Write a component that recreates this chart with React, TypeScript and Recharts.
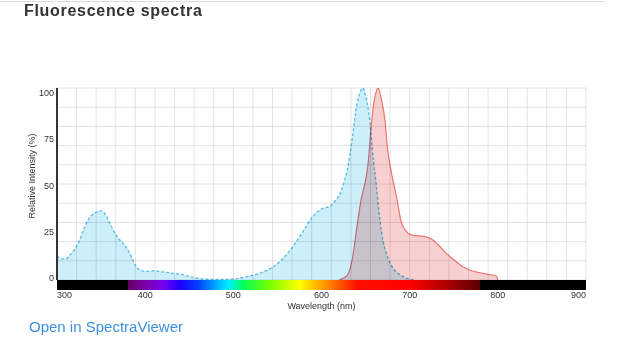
import { Area, CartesianGrid, ComposedChart, ReferenceArea, ReferenceLine, XAxis, YAxis } from "recharts";

// excitation (blue, dashed)
const exNm = [300, 305, 310, 315, 320, 325, 330, 335, 340, 345, 350, 355, 360, 365, 370, 375, 380, 385, 390, 395, 400, 410, 420, 430, 440, 450, 460, 470, 480, 490, 500, 510, 520, 530, 540, 550, 560, 570, 580, 590, 600, 610, 615, 620, 625, 630, 635, 640, 645, 647, 650, 655, 658, 662, 666, 670, 675, 683, 690, 696, 705];
const exVal = [12.5, 11, 11, 13, 16, 20, 26, 31, 34, 35.5, 36, 34, 29.5, 25, 21.5, 19, 16, 11.5, 6.8, 5, 4.5, 4.8, 4.2, 3.6, 3, 1.8, 0.8, 0.4, 0.3, 0.3, 0.5, 1.2, 2.2, 3.5, 5.5, 8.5, 13, 19, 26, 33, 37, 38.5, 41, 44, 50, 59, 74, 91, 99, 100, 96, 82, 66, 50, 32, 20, 12, 5, 2.5, 1, 0];

// emission (red)
const emNm = [620, 625, 630, 635, 640, 645, 650, 653, 656, 659, 662, 664, 666, 668, 672, 675, 678, 681, 686, 690, 695, 702, 710, 719, 726, 732, 738, 745, 753, 760, 768, 775, 783, 790, 798, 800];
const emVal = [0, 1, 3, 11, 27, 42, 52, 61, 78, 91, 98, 100, 98, 94, 83, 68, 59, 52, 41, 31, 26, 23.5, 23, 22.5, 21, 18.5, 15.6, 12.5, 9.5, 7, 5.2, 4.2, 3.5, 2.8, 2.2, 0];

const nmTicks = [300, 400, 500, 600, 700, 800, 900];
const pctTicks = [0, 25, 50, 75, 100];
const gridPct = [0, 10, 20, 30, 40, 50, 60, 70, 80, 90, 100];
// grid is 27 equal steps across the wavelength range
const gridNm = Array.from({ length: 28 }, (_, k) => 300 + (k * 600) / 27);

const allNm = Array.from(new Set([...exNm, ...emNm])).sort((a, b) => a - b);
const rows = allNm.map((nm) => {
  const i = exNm.indexOf(nm);
  const j = emNm.indexOf(nm);
  return { nm, excitation: i >= 0 ? exVal[i] : null, emission: j >= 0 ? emVal[j] : null };
});

const spectrumStops: [number, string][] = [
  [300, "#000000"], [380, "#000000"], [380, "#5e005e"], [400, "#7c00a8"], [420, "#7a00f0"],
  [440, "#1a00ff"], [460, "#0040ff"], [480, "#00a8ff"], [495, "#00f0ff"], [510, "#00ff60"],
  [540, "#70ff00"], [575, "#ffff00"], [605, "#ff9000"], [640, "#ff1000"], [700, "#ff0000"],
  [740, "#b00000"], [780, "#5a0000"], [780, "#000000"], [900, "#000000"],
];

const font = "'Liberation Sans', Arial, sans-serif";

const WaveTick = (props: any) => {
  const { x, y, payload } = props;
  const v = payload.value;
  const anchor = v === 300 ? "start" : v === 900 ? "end" : "middle";
  return (
    <text x={x} y={y + 17.5} textAnchor={anchor} fontSize={9} fill="#333" fontFamily={font}>
      {v}
    </text>
  );
};

export default function App() {
  return (
    <div style={{ position: "absolute", left: 0, top: 0, width: 619, height: 358, background: "#fff", fontFamily: font }}>
      <style>{".blend-area, .recharts-reference-line, .recharts-reference-line line { mix-blend-mode: multiply; }"}</style>
      <div style={{ position: "absolute", left: 0, top: 1, width: 605, height: 1, background: "#dcdcdc" }} />
      <div style={{ position: "absolute", left: 24, top: 2, fontSize: 16, lineHeight: "18px", fontWeight: "bold", letterSpacing: 0.7, color: "#333" }}>
        Fluorescence spectra
      </div>
      <div style={{ position: "absolute", left: 0, top: 0 }}>
        <ComposedChart width={619} height={320} data={rows} margin={{ top: 88, right: 33, bottom: 39, left: 56 }}>
          <defs>
            <linearGradient id="spectrumBar" x1="0" y1="0" x2="1" y2="0">
              {spectrumStops.map(([nm, c], k) => (
                <stop key={k} offset={(nm - 300) / 600} stopColor={c} />
              ))}
            </linearGradient>
          </defs>
          <CartesianGrid xAxisId="nm" yAxisId="val" vertical={false} stroke="#e4e4e4" strokeWidth={1} />
          <XAxis xAxisId="nm" dataKey="nm" type="number" domain={[300, 900]} allowDataOverflow ticks={nmTicks} interval={0}
            height={1} axisLine={false} tickLine={false} tickSize={0} tickMargin={0} tick={<WaveTick />}
            label={{ value: "Wavelength (nm)", position: "bottom", offset: 22, fontSize: 9, fill: "#333", fontFamily: font }} />
          <YAxis yAxisId="val" type="number" domain={[0, 100]} allowDataOverflow ticks={gridPct} interval={0} width={0} hide />
          <YAxis yAxisId="lab" type="number" domain={[-1.1, 102.7]} allowDataOverflow ticks={pctTicks} interval={0} width={1}
            axisLine={{ stroke: "#333", strokeWidth: 2 }} tickLine={false} tickSize={0} tickMargin={3}
            tick={{ fontSize: 9, fill: "#333", fontFamily: font }} />
          {gridNm.map((v) => (
            <ReferenceLine key={v} xAxisId="nm" yAxisId="val" x={v} stroke="#e4e4e4" strokeWidth={1} />
          ))}
          <Area xAxisId="nm" yAxisId="val" dataKey="excitation" type="monotone" connectNulls
            stroke="#5bbfea" strokeWidth={1.4} strokeDasharray="3 2" fill="#cdeefb" fillOpacity={1}
            className="blend-area" isAnimationActive={false} dot={false} activeDot={false} />
          <Area xAxisId="nm" yAxisId="val" dataKey="emission" type="monotone" connectNulls
            stroke="#f07470" strokeWidth={1.2} fill="#f9d0d0" fillOpacity={1}
            className="blend-area" isAnimationActive={false} dot={false} activeDot={false} />
          <ReferenceArea xAxisId="nm" yAxisId="val" x1={300} x2={900} y1={-5.2} y2={0} ifOverflow="visible"
            fill="url(#spectrumBar)" fillOpacity={1} stroke="none" />
        </ComposedChart>
      </div>
      <div style={{ position: "absolute", left: 32, top: 176, transform: "translate(-50%, -50%) rotate(-90deg)", whiteSpace: "nowrap", fontSize: 9, color: "#333" }}>
        Relative Intensity (%)
      </div>
      <div style={{ position: "absolute", left: 29, top: 318, fontSize: 15, lineHeight: "17px", color: "#3d8fe2" }}>
        Open in SpectraViewer
      </div>
    </div>
  );
}
